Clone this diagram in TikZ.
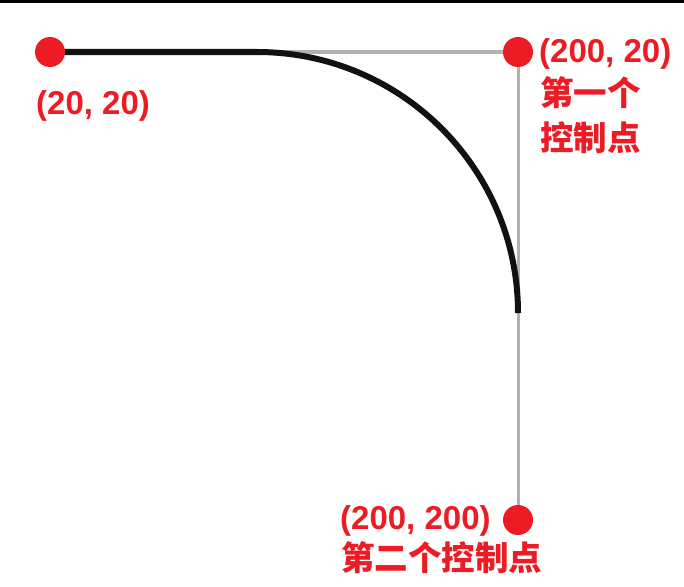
\documentclass[tikz,border=0pt]{standalone}
\usepackage{fontspec}
\setmainfont{Liberation Sans}
\newfontfamily\cjk{Noto Sans CJK SC}
\begin{document}
\begin{tikzpicture}[x=1pt, y=-1pt,
    every node/.style={font=\fontsize{33}{40}\selectfont\bfseries, text=ptred, inner sep=0pt},
    cjklabel/.style={font=\fontsize{33.5}{40}\selectfont\cjk\bfseries},
    ctrldot/.style={circle, fill=ptred, minimum size=30pt, inner sep=0pt},
    ctrlline/.style={draw=ctrlgray, line width=3pt},
    bezline/.style={draw=curveblack, line width=6pt}]
    \definecolor{ptred}{RGB}{237,28,36}
    \definecolor{ctrlgray}{RGB}{178,178,178}
    \definecolor{curveblack}{RGB}{17,17,17}

    \useasboundingbox (0,0) rectangle (684,586);
    \fill[black] (0,0) rectangle (684,3);

    % Points de départ et de contrôle.
    \coordinate (start) at (50,52);
    \coordinate (ctrlA) at (518,52);
    \coordinate (ctrlB) at (518,520);

    \draw[ctrlline] (start) -- (ctrlA) -- (ctrlB);
    \draw[bezline] (start) -- (257,52) arc[start angle=-90, end angle=0, radius=261];

    \node[ctrldot] (dotstart) at (start) {};
    \node[ctrldot] (dotA) at (ctrlA) {};
    \node[ctrldot] (dotB) at (ctrlB) {};

    % Étiquettes.
    \node[anchor=base west] (labstart) at (36,114) {(20, 20)};
    \node[anchor=base west] (labA) at (539,62) {(200, 20)};
    \node[anchor=base west, cjklabel] (labAa) at (540,105) {第一个};
    \node[anchor=base west, cjklabel] (labAb) at (540,150) {控制点};
    \node[anchor=base west] (labB) at (340,529) {(200, 200)};
    \node[anchor=base west, cjklabel] (labBa) at (341,570) {第二个控制点};
\end{tikzpicture}
\end{document}
